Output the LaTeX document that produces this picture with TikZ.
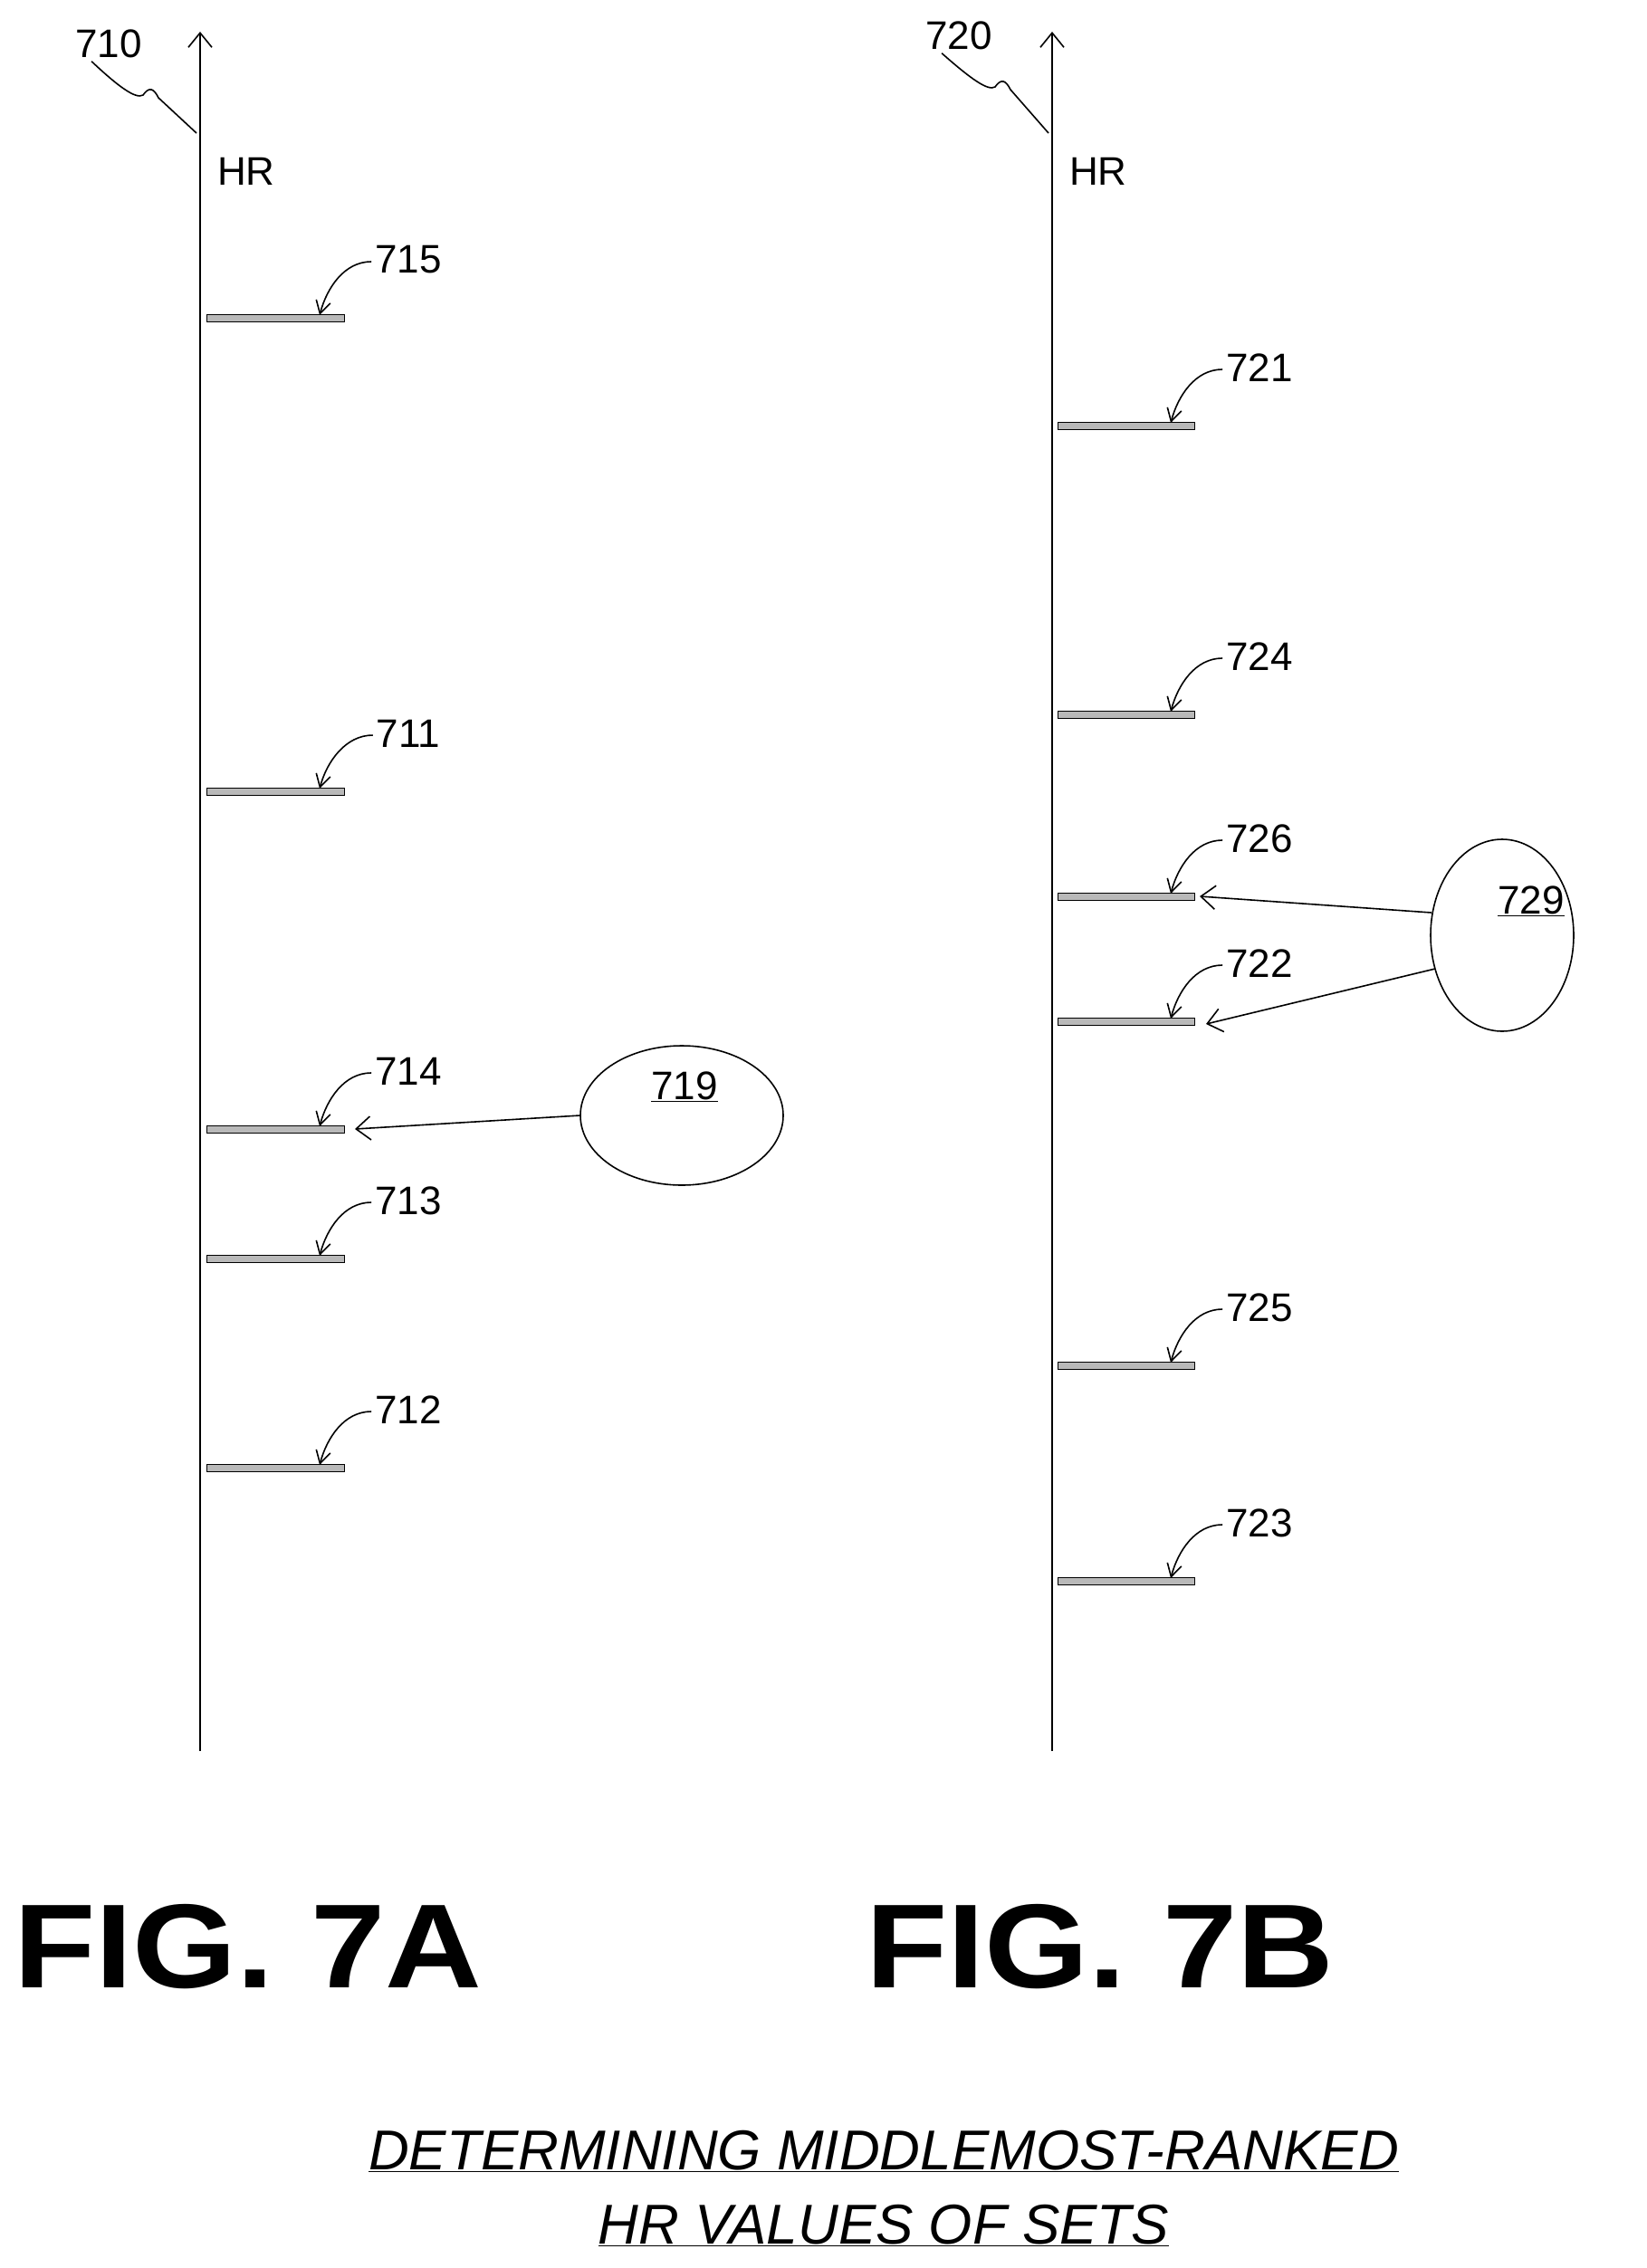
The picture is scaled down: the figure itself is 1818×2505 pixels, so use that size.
\documentclass[tikz,border=0pt]{standalone}
\usepackage{fontspec}
\setmainfont{Liberation Sans}
\usetikzlibrary{arrows.meta}
\begin{document}
\begin{tikzpicture}[x=1pt,y=-1pt,
  ax/.style={line width=2.2pt},
  bar/.style={draw=black,fill=gray!55,line width=1pt},
  lbl/.style={font=\fontsize{44}{50}\selectfont,inner sep=0pt},
  lead/.style={line width=1.6pt,-{Straight Barb[length=14pt,width=16pt]}},
  ptr/.style={line width=1.6pt,-{Straight Barb[length=16pt,width=26pt]}},
  fig/.style={font=\bfseries\fontsize{132}{140}\selectfont,inner sep=0pt,xscale=1.12}]
\useasboundingbox (0,0) rectangle (1818,2505);
% axes
\coordinate (atop) at (221,35); \coordinate (abot) at (221,1934);
\coordinate (btop) at (1162,35); \coordinate (bbot) at (1162,1934);
\draw[ax] (abot) -- (221,148);
\draw[line width=1.6pt,-{Straight Barb[length=16pt,width=26pt]}] (221,148) -- (atop);
\draw[ax] (bbot) -- (1162,148);
\draw[line width=1.6pt,-{Straight Barb[length=16pt,width=26pt]}] (1162,148) -- (btop);
\node[lbl] (n710) at (120,48) {710};
\node[lbl] (n720) at (1059,39) {720};
\coordinate (a710) at (217,147); \coordinate (a720) at (1158,147);
\draw[line width=1.6pt] (n710.south west)++(18,4) .. controls (130,95) and (150,110) .. (158,105) .. controls (165,95) and (170,98) .. (175,108) -- (a710);
\draw[line width=1.6pt] (n720.south west)++(18,4) .. controls (1071,86) and (1091,101) .. (1099,96) .. controls (1106,86) and (1111,89) .. (1116,99) -- (a720);
\node[lbl,anchor=west] (hra) at (240,189) {HR};
\node[lbl,anchor=west] (hrb) at (1181,189) {HR};
% bars A
\foreach \n/\y in {715/351,711/874,714/1247,713/1390,712/1621}{
  \draw[bar] (228,\y-4) rectangle (380,\y+4);
  \coordinate (t\n) at (353,\y-3);
  \node[lbl] (n\n) at (451,\y-64) {\n};
  \draw[lead] (n\n.west) ++(-4,2) .. controls +(-30,0) and +(8,-30) .. (t\n);
}
% bars B
\foreach \n/\y in {721/470,724/789,726/990,722/1128,725/1508,723/1746}{
  \draw[bar] (1168,\y-4) rectangle (1319,\y+4);
  \coordinate (t\n) at (1293,\y-3);
  \node[lbl] (n\n) at (1391,\y-64) {\n};
  \draw[lead] (n\n.west) ++(-4,2) .. controls +(-30,0) and +(8,-30) .. (t\n);
}
% ellipse 719
\draw[line width=1.6pt] (753,1232) ellipse [x radius=112, y radius=77];
\node (e719) at (753,1232) [minimum width=224pt,minimum height=154pt,inner sep=0pt] {};
\node[lbl] (n719) at (756,1200) {\underline{719}};
\coordinate (p714) at (392,1247);
\draw[ptr] (e719.west) -- (p714);
% circle 729
\draw[line width=1.6pt] (1659,1033) ellipse [x radius=79, y radius=106];
\node (c729) at (1659,1033) {};
\node[lbl] (n729) at (1691,995) {\underline{729}};
\coordinate (s1) at (1581,1008); \coordinate (s2) at (1585,1070);
\coordinate (p726) at (1325,990); \coordinate (p722) at (1332,1131);
\draw[ptr] (s1) -- (p726);
\draw[ptr] (s2) -- (p722);
% figure titles
\node[fig] (f7a) at (274,2150) {FIG. 7A};
\node[fig] (f7b) at (1215,2150) {FIG. 7B};
\node[font=\itshape\fontsize{62}{70}\selectfont,inner sep=0pt] (c1) at (976,2376) {\underline{DETERMINING MIDDLEMOST-RANKED}};
\node[font=\itshape\fontsize{62}{70}\selectfont,inner sep=0pt] (c2) at (976,2458) {\underline{HR VALUES OF SETS}};
\end{tikzpicture}
\end{document}
